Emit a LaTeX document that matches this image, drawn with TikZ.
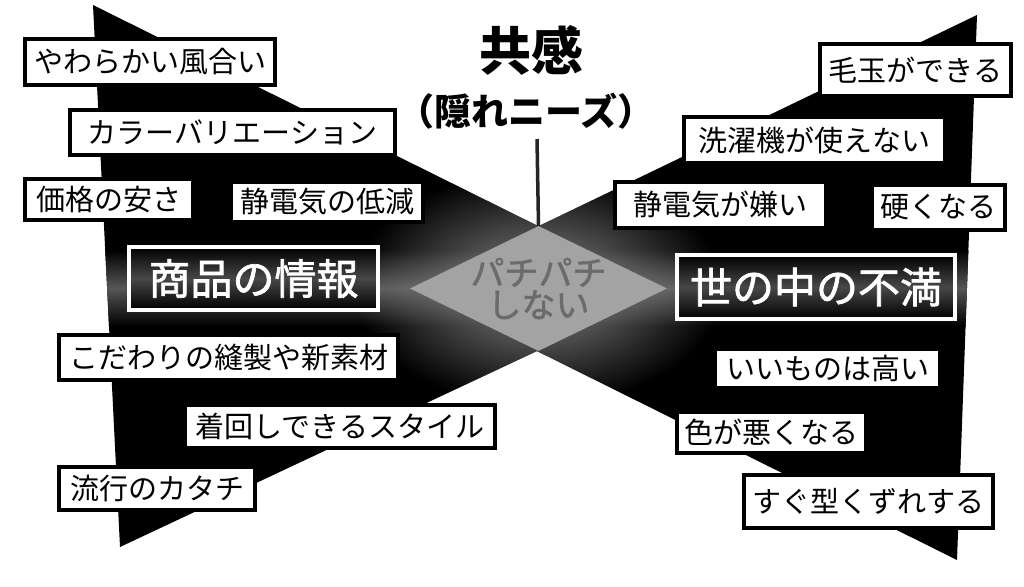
\documentclass[tikz,border=0pt]{standalone}
\usepackage{fontspec}
\newfontfamily\cjk{Noto Sans CJK JP}
\newfontfamily\cjkmed[FakeBold=1.6]{Noto Sans CJK JP}
\usetikzlibrary{shapes.geometric,fadings}
\tikzfading[name=glowfade, inner color=transparent!0, outer color=transparent!100]
\begin{document}
\begin{tikzpicture}[x=1pt,y=-1pt,
  itembox/.style={draw=black, line width=4pt, fill=white, inner sep=0pt, text=black,
    font=\cjk\fontsize{29}{29}\selectfont},
  keybox/.style={draw=white, line width=4pt, inner sep=0pt, text=white,
    top color=black, bottom color=black, middle color=black!72,
    font=\cjkmed\fontsize{42}{42}\selectfont},
  titletext/.style={font=\cjk\bfseries\fontsize{52}{52}\selectfont, text=black},
  subtext/.style={font=\cjk\bfseries\fontsize{37}{37}\selectfont, text=black},
  diatext/.style={font=\cjkmed\fontsize{34}{32}\selectfont, text=black!58, align=center},
  stem/.style={line width=3.5pt, draw=black!85}
]
\useasboundingbox (0,0) rectangle (1024,586);
\fill[white] (0,0) rectangle (1024,586);

% bow tie
\begin{scope}
  \clip (93,5) -- (667,290) -- (120,547) -- cycle
        (977,15) -- (957,560) -- (410,288) -- cycle;
  \fill[black] (0,0) rectangle (1024,586);
  \shade[top color=black, bottom color=black, middle color=black!66] (0,250) rectangle (1024,326);
  \fill[black!45, path fading=glowfade] (538,288) ellipse [x radius=185pt, y radius=118pt];
\end{scope}

% centre diamond
\node[diamond, fill=black!36, draw=none, minimum width=257pt, minimum height=125pt, inner sep=0pt] (dia) at (538.5,288.5) {};
\node[diatext] (ptext) at (dia.center) {パチパチ\\しない};

% title
\node[titletext] (title) at (531,50) {共感};
\node[subtext] (sub) at (526,111) {（隠れニーズ）};
\coordinate (stemtop) at (537,139);
\draw[stem] (stemtop) -- (dia.north);

% left side
\node[itembox, minimum width=250pt, minimum height=46pt] (l1) at (150,62) {やわらかい風合い};
\node[itembox, minimum width=325pt, minimum height=45pt] (l2) at (232.5,132.5) {カラーバリエーション};
\node[itembox, minimum width=168pt, minimum height=41pt] (l3) at (109,199.5) {価格の安さ};
\node[itembox, minimum width=192pt, minimum height=40pt] (l4) at (327,202) {静電気の低減};
\node[keybox, minimum width=249pt, minimum height=63pt] (lk) at (253.5,278.5) {商品の情報};
\node[itembox, minimum width=339pt, minimum height=45pt] (l5) at (228.5,357.5) {こだわりの縫製や新素材};
\node[itembox, minimum width=310pt, minimum height=43pt] (l6) at (340,426.5) {着回しできるスタイル};
\node[itembox, minimum width=196pt, minimum height=43pt] (l7) at (157,488.5) {流行のカタチ};

% right side
\node[itembox, minimum width=191pt, minimum height=52pt] (r1) at (915.5,70) {毛玉ができる};
\node[itembox, minimum width=261pt, minimum height=46pt] (r2) at (814.5,140) {洗濯機が使えない};
\node[itembox, minimum width=211pt, minimum height=46pt] (r3) at (720.5,205) {静電気が嫌い};
\node[itembox, minimum width=133pt, minimum height=45pt] (r4) at (938.5,207.5) {硬くなる};
\node[keybox, minimum width=278pt, minimum height=64pt] (rk) at (816,287) {世の中の不満};
\node[itembox, minimum width=225pt, minimum height=39pt] (r5) at (827.5,368.5) {いいものは高い};
\node[itembox, minimum width=189pt, minimum height=41pt] (r6) at (771.5,432.5) {色が悪くなる};
\node[itembox, minimum width=249pt, minimum height=53pt] (r7) at (868.5,501.5) {すぐ型くずれする};
\end{tikzpicture}
\end{document}
